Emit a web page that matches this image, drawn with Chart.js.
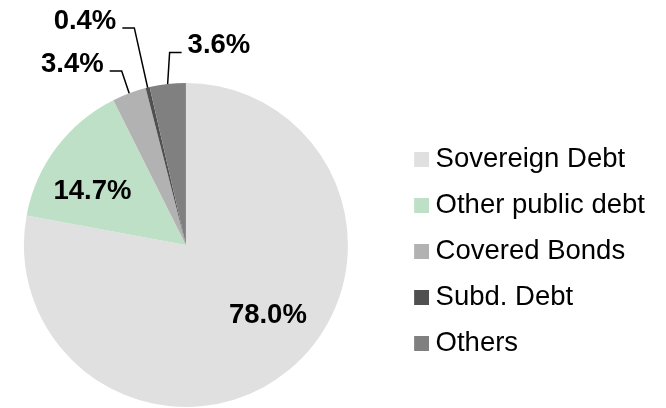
<!DOCTYPE html>
<html>
<head>
<meta charset="utf-8">
<script src="https://cdn.jsdelivr.net/npm/chart.js@4/dist/chart.umd.min.js"></script>
<style>
  html, body { margin: 0; padding: 0; background: #ffffff; }
  #wrap { width: 666px; height: 408px; }
</style>
</head>
<body>
<div id="wrap"><canvas id="c" width="666" height="408"></canvas></div>
<script>
// ---- data ----
const categories = ['Sovereign Debt', 'Other public debt', 'Covered Bonds', 'Subd. Debt', 'Others'];
const shares = [78.0, 14.7, 3.4, 0.4, 3.6];
const sliceColors = ['#e0e0e0', '#bde0c6', '#b2b2b2', '#505050', '#808080'];
// label anchor (centre of text) relative to pie centre, in units of the radius
const labelPos = [[0.506, 0.432], [-0.577, -0.329], [-0.701, -1.117], [-0.623, -1.383], [0.204, -1.231]];

const FONT = '"Liberation Sans", Arial, sans-serif';

// legend swatches: 15x15 square placed at the right end of a wider transparent image
function makeSwatch(color) {
  const c = document.createElement('canvas');
  c.width = 46; c.height = 15;
  const g = c.getContext('2d');
  g.fillStyle = color;
  g.fillRect(31, 0, 15, 15);
  return c;
}
const swatches = sliceColors.map(makeSwatch);

const pieLabels = {
  id: 'pieLabels',
  afterDatasetsDraw(chart) {
    const meta = chart.getDatasetMeta(0);
    const ctx = chart.ctx;
    ctx.save();
    ctx.font = 'bold 27.5px ' + FONT;
    ctx.textAlign = 'center';
    ctx.textBaseline = 'middle';
    ctx.strokeStyle = '#000000';
    ctx.lineWidth = 1.5;
    ctx.fillStyle = '#000000';
    meta.data.forEach((arc, i) => {
      const p = arc.getProps(['x', 'y', 'startAngle', 'endAngle', 'outerRadius'], true);
      const R = p.outerRadius;
      const mid = (p.startAngle + p.endAngle) / 2;
      const lx = p.x + labelPos[i][0] * R;
      const ly = p.y + labelPos[i][1] * R;
      const text = shares[i].toFixed(1) + '%';
      if (Math.hypot(lx - p.x, ly - p.y) > R) {
        const ex = p.x + Math.cos(mid) * R;
        const ey = p.y + Math.sin(mid) * R;
        const w = ctx.measureText(text).width;
        const dir = lx < ex ? 1 : -1;
        const sx = lx + dir * (w / 2 + 6);
        const bx = sx + dir * 12;
        const lineY = ly + 7;
        ctx.beginPath();
        ctx.moveTo(sx, lineY);
        ctx.lineTo(bx, lineY);
        ctx.lineTo(ex, ey);
        ctx.stroke();
      }
      ctx.fillText(text, lx, ly);
    });
    ctx.restore();
  }
};

new Chart(document.getElementById('c'), {
  type: 'pie',
  data: {
    labels: categories,
    datasets: [{
      data: shares,
      backgroundColor: sliceColors,
      borderWidth: 0,
      clip: false
    }]
  },
  options: {
    responsive: false,
    animation: false,
    devicePixelRatio: 1,
    layout: { padding: { top: 83, bottom: 1, left: 0, right: 11 } },
    plugins: {
      tooltip: { enabled: false },
      legend: {
        position: 'right',
        align: 'center',
        title: { display: true, text: '', font: { size: 13, lineHeight: 1 }, padding: 0 },
        labels: {
          color: '#000000',
          font: { family: FONT, size: 27.5 },
          padding: 18.5,
          usePointStyle: true,
          pointStyleWidth: 31.5,
          generateLabels: () => categories.map((t, i) => ({
            text: t,
            fillStyle: sliceColors[i],
            strokeStyle: sliceColors[i],
            lineWidth: 0,
            pointStyle: swatches[i],
            fontColor: '#000000',
            hidden: false,
            index: i
          }))
        }
      }
    }
  },
  plugins: [pieLabels]
});
</script>
</body>
</html>
